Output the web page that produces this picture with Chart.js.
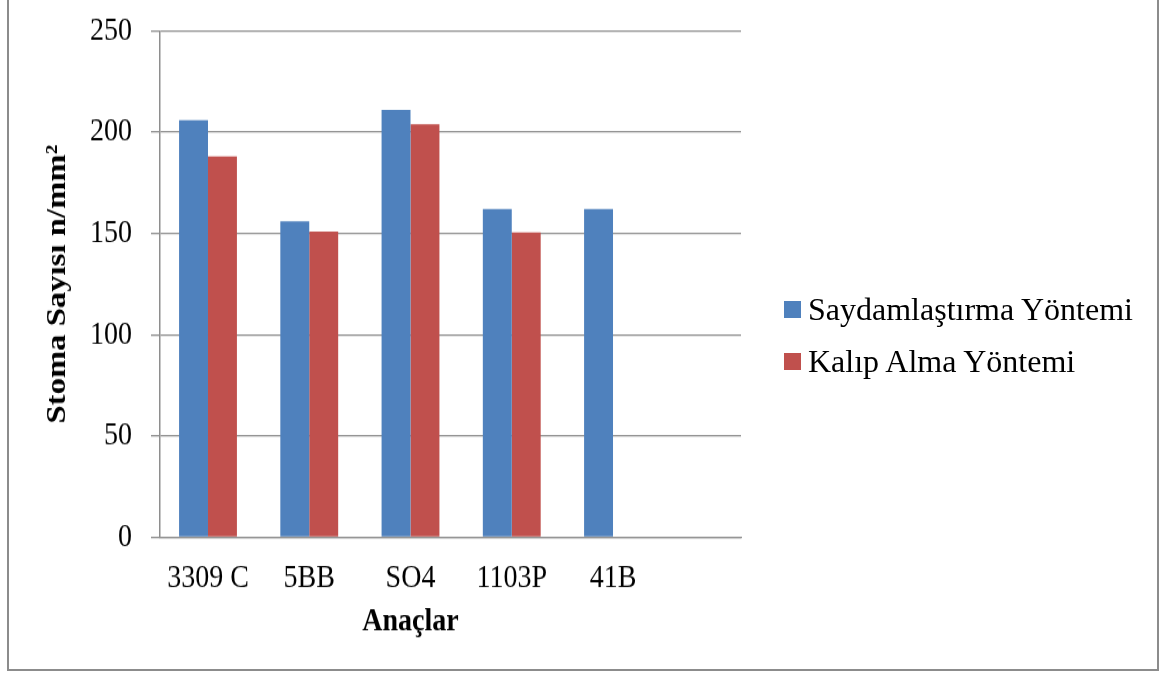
<!DOCTYPE html>
<html>
<head>
<meta charset="utf-8">
<script src="https://cdn.jsdelivr.net/npm/chart.js@4.4.1/dist/chart.umd.min.js"></script>
<style>
  html, body { margin: 0; padding: 0; background: #fff; overflow: hidden; }
  #wrap { position: relative; width: 1164px; height: 677px; }
  /* the chart is laid out at 1164x579 and stretched to the full 677px height */
  #plot { position: absolute; left: 0; top: 0; width: 1164px; height: 579px;
          transform: scaleY(1.1693); transform-origin: 0 0; }
  #frame { position: absolute; left: 7px; top: -2px; width: 1152px; height: 673px;
           box-sizing: border-box; border: 2px solid #8c8c8c; pointer-events: none; }
  #legend { position: absolute; left: 784px; top: 0;
            font-family: "Liberation Serif", "Times New Roman", serif; font-size: 32px; color: #000; }
  .item { position: absolute; left: 0; height: 40px; display: flex; align-items: center; white-space: nowrap; }
  .swatch { width: 17px; height: 17px; margin-right: 7px; flex: none; }
</style>
</head>
<body>
<div id="wrap">
  <div id="plot"><canvas id="c" width="1164" height="579"></canvas></div>
  <div id="legend"></div>
  <div id="frame"></div>
</div>
<script>
// Stoma counts per rootstock (n/mm²) for the two counting methods
const categories = ['3309 C', '5BB', 'SO4', '1103P', '41B'];
const saydamlastirma = [206, 156, 211, 162, 162];
const kalipAlma = [188, 151, 204, 150.5, null];
const yTicks = [0, 50, 100, 150, 200, 250];
const seriesNames = ['Saydamlaştırma Yöntemi', 'Kalıp Alma Yöntemi'];
const seriesColors = ['#4F81BD', '#C0504D'];

const serif = '"Liberation Serif", "Times New Roman", serif';
const gridGray = '#8e8e8e';

const toPoints = (vals) => categories.map((c, i) => ({ x: i, y: vals[i] }));

// x-axis title centred under the category groups
const axisTitleX = {
  id: 'axisTitleX',
  afterDraw(chart) {
    const xs = chart.scales.x;
    const mid = (xs.getPixelForValue(0) + xs.getPixelForValue(categories.length - 1)) / 2;
    const ctx = chart.ctx;
    ctx.save();
    ctx.font = 'bold 28px ' + serif;
    ctx.fillStyle = '#000';
    ctx.textAlign = 'center';
    ctx.textBaseline = 'alphabetic';
    ctx.fillText('Anaçlar', mid, xs.bottom + 26);
    ctx.restore();
  }
};

const chart = new Chart(document.getElementById('c'), {
  type: 'bar',
  data: {
    datasets: [
      { label: seriesNames[0], data: toPoints(saydamlastirma), backgroundColor: seriesColors[0] },
      { label: seriesNames[1], data: toPoints(kalipAlma), backgroundColor: seriesColors[1] }
    ]
  },
  plugins: [axisTitleX],
  options: {
    responsive: false,
    animation: false,
    devicePixelRatio: 1,
    layout: { padding: { left: 41, top: 26.5, right: 423, bottom: 65.7 } },
    datasets: { bar: { categoryPercentage: 0.5714, barPercentage: 1 } },
    plugins: { legend: { display: false }, tooltip: { enabled: false } },
    scales: {
      x: {
        type: 'linear',
        offset: false,
        min: -0.474,
        max: 5.264,
        grid: { display: false },
        border: { display: true, color: gridGray, width: 1.3 },
        ticks: {
          stepSize: 1,
          includeBounds: false,
          autoSkip: false,
          maxRotation: 0,
          padding: 11,
          color: '#000',
          font: { family: serif, size: 28 },
          callback: (v) => (Number.isInteger(v) && categories[v] !== undefined) ? categories[v] : ''
        },
        afterFit: (s) => { s.height = 54; s.paddingLeft = 0; s.paddingRight = 0; }
      },
      y: {
        min: yTicks[0],
        max: yTicks[yTicks.length - 1],
        grid: { color: gridGray, lineWidth: 1.3, tickLength: 9, drawTicks: true },
        border: { display: true, color: gridGray, width: 1.5 },
        ticks: {
          stepSize: yTicks[1] - yTicks[0],
          padding: 19,
          color: '#000',
          font: { family: serif, size: 28 }
        },
        title: {
          display: true,
          text: 'Stoma Sayısı n/mm²',
          color: '#000',
          font: { family: serif, size: 28, weight: 'bold' },
          padding: { top: 0, bottom: 14 }
        },
        afterFit: (s) => { s.width = 119; s.paddingTop = 0; s.paddingBottom = 0; }
      }
    }
  }
});

// legend built from the chart's datasets
const legend = document.getElementById('legend');
chart.data.datasets.forEach((ds, i) => {
  const item = document.createElement('div');
  item.className = 'item';
  item.style.top = (289.5 + i * 52) + 'px';
  const sw = document.createElement('span');
  sw.className = 'swatch';
  sw.style.background = ds.backgroundColor;
  const tx = document.createElement('span');
  tx.textContent = ds.label;
  item.appendChild(sw);
  item.appendChild(tx);
  legend.appendChild(item);
});
</script>
</body>
</html>
